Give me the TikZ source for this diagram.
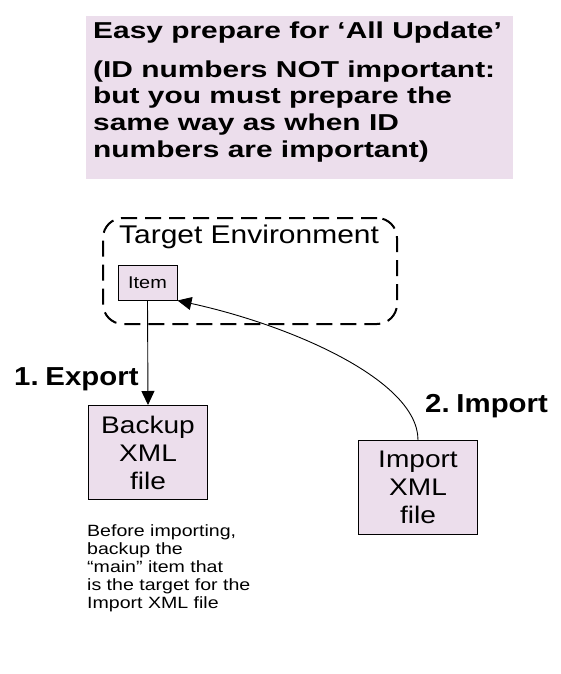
\documentclass[tikz,border=0pt]{standalone}
\usepackage{fontspec}
\setmainfont[FakeStretch=1.17]{Liberation Sans}
\newfontfamily\titlefont[FakeStretch=1.3]{Liberation Sans}
\newfontfamily\labelfont[FakeStretch=1.13,WordSpace=0.5]{Liberation Sans}
\newfontfamily\notefont[FakeStretch=1.2]{Liberation Sans}
\usetikzlibrary{arrows.meta}
\definecolor{boxpink}{RGB}{236,222,236}

\begin{document}
\begin{tikzpicture}[x=1pt,y=-1pt,
		filebox/.style={draw, fill=boxpink, line width=1pt, align=center, inner sep=0pt,
			minimum width=119pt, minimum height=94pt, font=\fontsize{24}{28}\selectfont},
		steplabel/.style={anchor=base west, inner sep=0pt, font=\labelfont\bfseries\fontsize{26}{30}\selectfont},
		arrowline/.style={line width=0.9pt, -{Triangle[length=14pt,width=13pt]}}]
		\useasboundingbox (0,0) rectangle (561,674);
		\node[fill=boxpink, minimum width=427pt, minimum height=163pt, inner sep=0pt] (titlebox) at (299.5,97.5) {};
		\node[anchor=north west, inner sep=0pt, align=left, font=\titlefont\bfseries\fontsize{23}{26.7}\selectfont] (title) at (93,21.7)
			{Easy prepare for ‘All Update’\\[11.8pt](ID numbers NOT important:\\but you must prepare the\\same way as when ID\\numbers are important)};
		\node[draw, line width=2pt, dash pattern=on 16pt off 8pt, rounded corners=20pt,
			minimum width=294pt, minimum height=106pt] (targetenv) at (250,271) {};
		\node[anchor=base west, inner sep=0pt, font=\fontsize{25.6}{28}\selectfont] (targetlabel) at (119,243.3) {Target Environment};
		\node[draw, fill=boxpink, line width=1pt, minimum width=59pt, minimum height=35pt, inner sep=0pt,
			font=\fontsize{17}{20}\selectfont] (item) at (147.5,282.5) {Item};
		\node[filebox] (backup) at (148,452.5) {Backup\\XML\\file};
		\node[filebox] (import) at (418,487.5) {Import\\XML\\file};
		\draw[arrowline] (item.south) -- (backup.north);
		\draw[arrowline] (import.north) .. controls (418,380) and (290,325) .. (item.south east);
		\node[steplabel] (export) at (14,385) {1. Export};
		\node[steplabel] (importlabel) at (425,412.3) {2. Import};
		\node[anchor=north west, inner sep=0pt, align=left, font=\notefont\fontsize{16.3}{18}\selectfont] (note) at (87,524.8)
			{Before importing,\\backup the\\“main” item that\\is the target for the\\Import XML file};
	\end{tikzpicture}
\end{document}
